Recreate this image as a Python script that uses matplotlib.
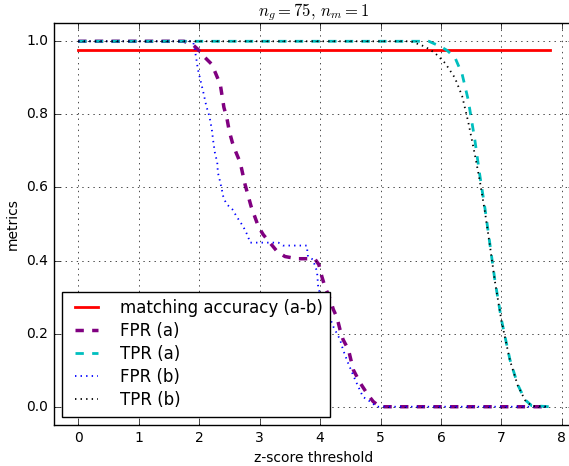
import matplotlib
matplotlib.use("Agg")
import matplotlib.pyplot as plt

plt.style.use("classic")

# ---- data ----
acc_x = [0.0, 7.8]
acc_y = [0.975, 0.975]

fpr_a_x = [0.0, 1.75, 1.9, 1.98, 2.1, 2.21, 2.35, 2.41, 2.46, 2.50, 2.55, 2.61, 2.68, 2.76,
           2.86, 2.98, 3.06, 3.17, 3.29, 3.42, 3.62, 3.83, 3.92, 3.98, 4.03, 4.08, 4.17,
           4.22, 4.28, 4.33, 4.38, 4.47, 4.55, 4.66, 4.79, 4.88, 4.99, 7.8]
fpr_a_y = [1.0, 1.0, 0.99, 0.978, 0.955, 0.937, 0.882, 0.819, 0.789, 0.753, 0.723, 0.696,
           0.668, 0.608, 0.548, 0.493, 0.471, 0.449, 0.425, 0.411, 0.405, 0.405, 0.403,
           0.389, 0.356, 0.329, 0.293, 0.266, 0.244, 0.211, 0.184, 0.156, 0.101, 0.066,
           0.033, 0.014, 0.0, 0.0]

tpr_a_x = [0.0, 5.8, 6.0, 6.1, 6.23, 6.35, 6.45, 6.56, 6.64, 6.73, 6.81, 6.89, 7.0, 7.14,
           7.27, 7.39, 7.5, 7.8]
tpr_a_y = [1.0, 1.0, 0.985, 0.975, 0.956, 0.91, 0.84, 0.73, 0.636, 0.54, 0.444, 0.348,
           0.238, 0.129, 0.06, 0.019, 0.003, 0.0]

fpr_b_x = [0.0, 1.9, 1.93, 1.95, 1.98, 2.03, 2.07, 2.12, 2.17, 2.21, 2.23, 2.26, 2.30,
           2.31, 2.35, 2.40, 2.45, 2.55, 2.63, 2.73, 2.81, 2.84, 3.12, 3.31, 3.39, 3.78,
           3.80, 3.88, 3.95, 3.97, 4.03, 4.13, 4.22, 4.33, 4.38, 4.46, 4.58, 4.71, 4.83,
           4.94, 7.8]
fpr_b_y = [1.0, 1.0, 0.975, 0.956, 0.923, 0.888, 0.86, 0.822, 0.795, 0.759, 0.731, 0.696,
           0.668, 0.641, 0.614, 0.575, 0.555, 0.540, 0.518, 0.493, 0.466, 0.449, 0.449,
           0.449, 0.441, 0.441, 0.411, 0.403, 0.370, 0.326, 0.293, 0.258, 0.219, 0.184,
           0.156, 0.121, 0.074, 0.027, 0.014, 0.0, 0.0]

tpr_b_x = [0.0, 5.5, 5.74, 5.9, 6.07, 6.23, 6.35, 6.45, 6.56, 6.64, 6.73, 6.81, 6.89, 7.0,
           7.14, 7.27, 7.39, 7.5, 7.8]
tpr_b_y = [1.0, 1.0, 0.985, 0.968, 0.94, 0.9, 0.85, 0.78, 0.69, 0.62, 0.53, 0.44,
           0.345, 0.235, 0.127, 0.058, 0.018, 0.002, 0.0]

labels = ["matching accuracy (a-b)", "FPR (a)", "TPR (a)", "FPR (b)", "TPR (b)"]
x_ticks = [0, 1, 2, 3, 4, 5, 6, 7, 8]
y_ticks = [0.0, 0.2, 0.4, 0.6, 0.8, 1.0]

# ---- figure ----
W, H, DPI = 569, 466, 100
fig = plt.figure(figsize=(W / DPI, H / DPI), dpi=DPI, facecolor="white")
ax_left, ax_right, ax_top, ax_bottom = 54, 574, 23, 425
ax = fig.add_axes([ax_left / W, (H - ax_bottom) / H,
                   (ax_right - ax_left) / W, (ax_bottom - ax_top) / H])

ax.plot(acc_x, acc_y, color="red", linestyle="-", linewidth=2, label=labels[0])
ax.plot(fpr_a_x, fpr_a_y, color="purple", linestyle="--", linewidth=2.5, label=labels[1])
ax.plot(tpr_a_x, tpr_a_y, color="c", linestyle="--", linewidth=2, label=labels[2])
ax.plot(fpr_b_x, fpr_b_y, color="blue", linestyle=":", linewidth=1.3, label=labels[3])
ax.plot(tpr_b_x, tpr_b_y, color="black", linestyle=":", linewidth=1.3, label=labels[4])

ax.set_xlim(-0.4, 8.2)
ax.set_ylim(-0.05, 1.05)
ax.set_xticks(x_ticks)
ax.set_yticks(y_ticks)
ax.set_yticklabels([f"{v:.1f}" for v in y_ticks])
ax.tick_params(labelsize=10)
ax.grid(True)
ax.set_xlabel("z-score threshold", fontsize=10)
ax.set_ylabel("metrics", fontsize=10)
ax.set_title(r"$n_g = 75,\, n_m = 1$", fontsize=12)
ax.legend(loc="lower left", fontsize=12, labelspacing=0.3, borderpad=0.45,
          handletextpad=1.0)

fig.savefig("out.png", dpi=DPI, facecolor="white")
